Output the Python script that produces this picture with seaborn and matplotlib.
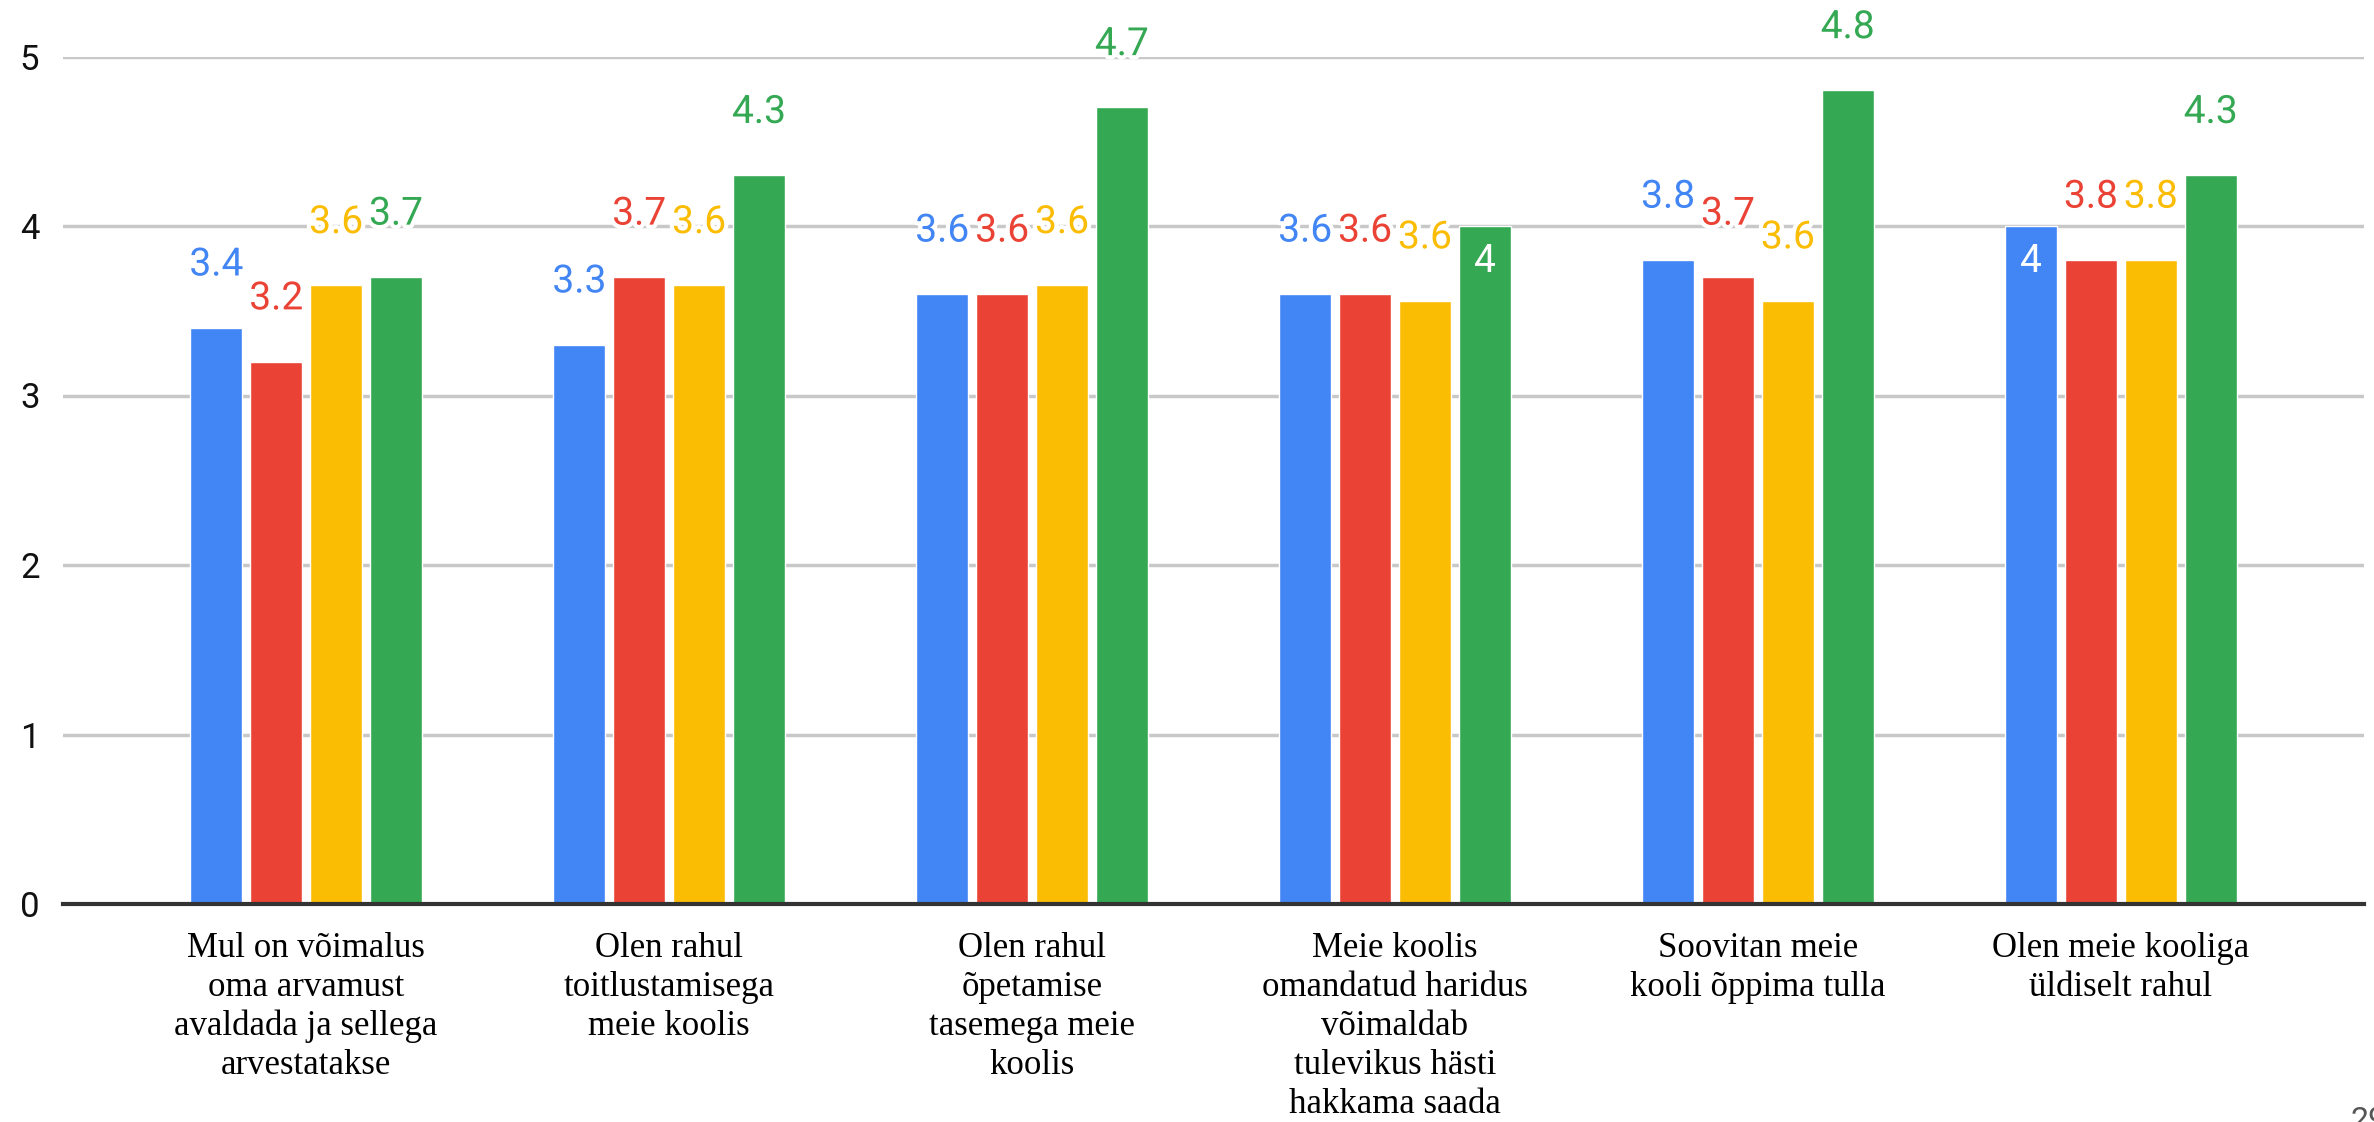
import pandas as pd
import matplotlib.pyplot as plt
import matplotlib.patheffects as pe
import seaborn as sns

# andmed (loetud graafikult)
vaited = [
    "Mul on võimalus\noma arvamust\navaldada ja sellega\narvestatakse",
    "Olen rahul\ntoitlustamisega\nmeie koolis",
    "Olen rahul\nõpetamise\ntasemega meie\nkoolis",
    "Meie koolis\nomandatud haridus\nvõimaldab\ntulevikus hästi\nhakkama saada",
    "Soovitan meie\nkooli õppima tulla",
    "Olen meie kooliga\nüldiselt rahul",
]
ruhmad = ["sinine", "punane", "kollane", "roheline"]
sinine = [3.4, 3.3, 3.6, 3.6, 3.8, 4.0]
punane = [3.2, 3.7, 3.6, 3.6, 3.7, 3.8]
kollane = [3.65, 3.65, 3.65, 3.56, 3.56, 3.8]
roheline = [3.7, 4.3, 4.7, 4.0, 4.8, 4.3]
varvid = ["#4285F4", "#EA4335", "#FBBC04", "#34A853"]
# sildid, mis on tulba sees (valge kiri)
sees = {(3, "roheline"), (5, "sinine")}

vaartused = {"sinine": sinine, "punane": punane, "kollane": kollane, "roheline": roheline}
df = pd.DataFrame([
    {"väide": v, "rühm": r, "hinnang": vaartused[r][i]}
    for r in ruhmad for i, v in enumerate(vaited)
])

sns.set_style("white")
fig = plt.figure(figsize=(23.74, 11.22), dpi=100)
ax = fig.add_axes([63 / 2374, 1 - 904 / 1122, 2301 / 2374, 847.5 / 1122])

sns.barplot(data=df, x="väide", y="hinnang", hue="rühm", hue_order=ruhmad,
            order=vaited, palette=varvid, saturation=1, width=0.66, gap=0.13,
            legend=False, ax=ax)

# andmesildid
for r, varv, cont in zip(ruhmad, varvid, ax.containers):
    for i, bar in enumerate(cont):
        v = vaartused[r][i]
        x = bar.get_x() + bar.get_width() / 2
        tekst = f"{round(v, 1):g}"
        if (i, r) in sees:
            ax.text(x, v - 0.21, tekst, ha="center", va="center", color="white",
                    fontsize=28, family="Roboto", clip_on=False)
        else:
            ax.text(x, v + 0.37, tekst, ha="center", va="center", color=varv,
                    fontsize=28, family="Roboto", clip_on=False,
                    path_effects=[pe.withStroke(linewidth=6, foreground="white")])

ax.set_ylim(0, 5)
ax.set_xlim(-0.67, 5.67)
ax.set_yticks([0, 1, 2, 3, 4, 5])
ax.yaxis.grid(True, color="#c8c8c8", linewidth=2.5)
ax.set_axisbelow(True)
for s in ["top", "right", "left"]:
    ax.spines[s].set_visible(False)
ax.spines["bottom"].set_color("#333333")
ax.spines["bottom"].set_linewidth(3)
ax.set_xlabel("")
ax.set_ylabel("")
ax.tick_params(axis="x", length=0, pad=20)
ax.tick_params(axis="y", length=0, pad=17)
for t in ax.get_yticklabels():
    t.set_fontsize(25)
    t.set_family("Roboto")
    t.set_color("#111111")
for t in ax.get_xticklabels():
    t.set_fontsize(25)
    t.set_family("Liberation Serif")
    t.set_color("black")
    t.set_linespacing(1.24)

# lehekülje number (osaliselt ära lõigatud)
fig.text(2350 / 2374, 1 - 1106 / 1122, "29", ha="left", va="top",
         fontsize=23, family="Roboto", color="#555555")

fig.savefig("out.png", dpi=100)
